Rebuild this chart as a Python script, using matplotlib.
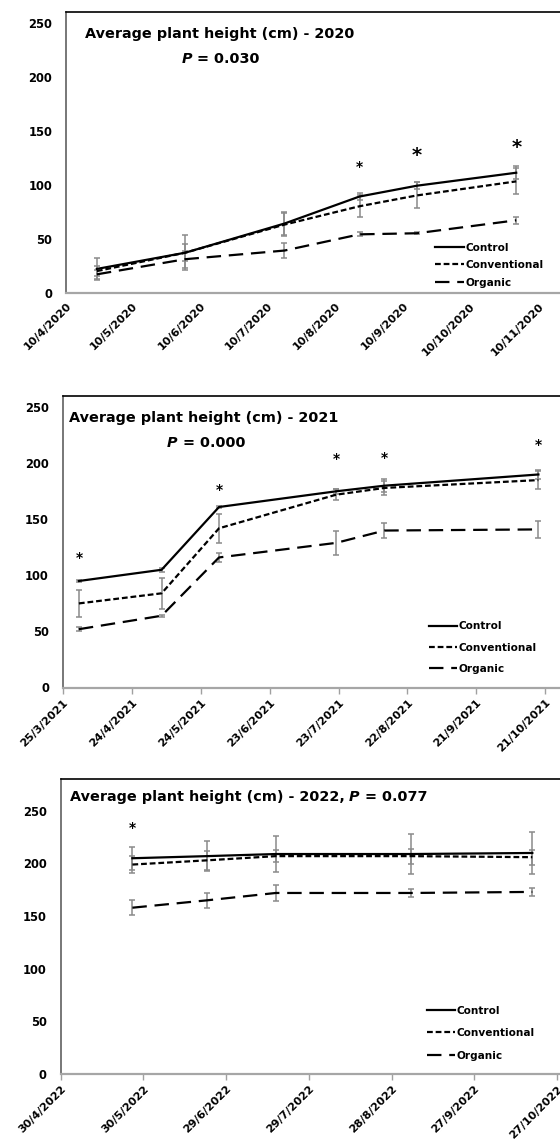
import matplotlib
matplotlib.use("Agg")
import matplotlib.pyplot as plt
import matplotlib.dates as mdates
from datetime import datetime
from matplotlib.lines import Line2D
from matplotlib.text import Annotation

plt.rcParams['font.family'] = ['DejaVu Sans']
plt.rcParams['font.weight'] = 'bold'

# ---------------- data ----------------
series_names = ['Control', 'Conventional', 'Organic']

dates_2020 = ['24/4/2020', '3/6/2020', '18/7/2020', '21/8/2020', '16/9/2020', '31/10/2020']
control_2020 = [22, 37, 64, 89, 99, 111]
conventional_2020 = [20, 37, 63, 80, 90, 103]
organic_2020 = [17, 31, 39, 54, 55, 67]
control_2020_err = [10, 16, 11, 3, 3, 6]
conventional_2020_err = [5, 8, 11, 10, 12, 12]
organic_2020_err = [4, 8, 7, 2, 1, 3]
stars_2020_idx = [3, 4, 5]
stars_2020_y = [117, 128, 135]
stars_2020_big = [False, True, True]
ticks_2020 = ['10/4/2020', '10/5/2020', '10/6/2020', '10/7/2020',
              '10/8/2020', '10/9/2020', '10/10/2020', '10/11/2020']

dates_2021 = ['1/4/2021', '7/5/2021', '1/6/2021', '22/7/2021', '12/8/2021', '18/10/2021']
control_2021 = [95, 105, 161, 175, 180, 190]
conventional_2021 = [75, 84, 142, 172, 178, 185]
organic_2021 = [52, 64, 116, 129, 140, 141]
control_2021_err = [1, 2, 1, 2, 6, 4]
conventional_2021_err = [12, 14, 13, 5, 6, 8]
organic_2021_err = [2, 1, 4, 11, 7, 7.5]
stars_2021_idx = [0, 2, 3, 4, 5]
stars_2021_y = [116, 177, 204, 205, 217]
stars_2021_big = [False, False, False, False, False]
ticks_2021 = ['25/3/2021', '24/4/2021', '24/5/2021', '23/6/2021',
              '23/7/2021', '22/8/2021', '21/9/2021', '21/10/2021']

dates_2022 = ['26/5/2022', '22/6/2022', '17/7/2022', '4/9/2022', '18/10/2022']
control_2022 = [205, 207, 209, 209, 210]
conventional_2022 = [199, 203, 207, 207, 206]
organic_2022 = [158, 165, 172, 172, 173]
control_2022_err = [11, 14, 17, 19, 20]
conventional_2022_err = [8, 9, 6, 7, 7]
organic_2022_err = [7, 7, 7.5, 3.7, 3.5]
stars_2022_idx = [0]
stars_2022_y = [234]
stars_2022_big = [False]
ticks_2022 = ['30/4/2022', '30/5/2022', '29/6/2022', '29/7/2022',
              '28/8/2022', '27/9/2022', '27/10/2022']

y_ticks = [0, 50, 100, 150, 200, 250]

# ---------------- layout ----------------
W, H = 560, 1142
fig = plt.figure(figsize=(W / 100, H / 100), dpi=100)


def d(s):
    return mdates.date2num(datetime.strptime(s, '%d/%m/%Y'))


def rect(left, top, bottom, right=560):
    return [left / W, 1 - bottom / H, (right - left) / W, (bottom - top) / H]


styles = {
    'Control': dict(linestyle='-'),
    'Conventional': dict(linestyle=(0, (2.6, 1.3))),
    'Organic': dict(linestyle=(0, (6.5, 3.5))),
}
ERR_COL = '#8a8a8a'


def panel(ax_rect, dates, vals, errs, ticks, xmax_days, ymax, stars, show_ticks):
    ax = fig.add_axes(ax_rect)
    x = [d(s) for s in dates]
    for name, v, e in zip(series_names, vals, errs):
        ax.errorbar(x, v, yerr=e, fmt='none', ecolor=ERR_COL, elinewidth=1.1,
                    capsize=2.2, capthick=1.1, zorder=2)
    for name, v in zip(series_names, vals):
        ax.plot(x, v, color='black', lw=1.6, zorder=3, **styles[name])
    idx, sy, big = stars
    for i, yv, b in zip(idx, sy, big):
        fs = 14 if b else 10
        ax.annotate('*', xy=(x[i], yv), xytext=(0, -0.32 * fs), textcoords='offset points',
                    ha='center', va='baseline', fontsize=fs, fontweight='bold')
    x0 = d(ticks[0])
    ax.set_xlim(x0, x0 + xmax_days)
    ax.set_ylim(0, ymax)
    ax.set_xticks([d(t) for t in ticks])
    ax.set_xticklabels(ticks, rotation=45, ha='right', va='top',
                       rotation_mode='anchor', fontsize=8, fontweight='bold')
    ax.set_yticks(y_ticks)
    ax.set_yticklabels([str(t) for t in y_ticks], fontsize=8.3, fontweight='bold')
    ax.tick_params(axis='y', length=0, pad=10)
    if show_ticks:
        ax.tick_params(axis='x', length=4, width=1, color='#a0a0a0', direction='out', pad=3)
    else:
        ax.tick_params(axis='x', length=0, pad=6)
    ax.spines['right'].set_visible(False)
    ax.spines['top'].set_color('black')
    ax.spines['top'].set_linewidth(1.2)
    ax.spines['left'].set_color('#606060')
    ax.spines['left'].set_linewidth(1.2)
    ax.spines['bottom'].set_color('#a6a6a6')
    ax.spines['bottom'].set_linewidth(1.6)
    return ax


def legend(ax, left_px, top_px, spacing):
    handles = [Line2D([], [], color='black', lw=1.6, **styles[n]) for n in series_names]
    ax.legend(handles, series_names, loc='upper left',
              bbox_to_anchor=(left_px / W, 1 - top_px / H), bbox_transform=fig.transFigure,
              frameon=False, borderpad=0, borderaxespad=0, handlelength=2.7,
              handletextpad=0.15, labelspacing=spacing,
              prop=dict(size=7.6, weight='bold'))


def fx(px):
    return px / W


def fy(py):
    return 1 - py / H


def chain(prev, s, italic=False):
    a = Annotation(s, xy=(1, 0), xycoords=prev, va='bottom', ha='left',
                   fontsize=TFS, fontweight='bold', style='italic' if italic else 'normal')
    a.set_figure(fig)
    fig.texts.append(a)
    return a


TFS = 10.4

# Panel 2020
ax1 = panel(rect(66, 11.7, 292.7), dates_2020,
            [control_2020, conventional_2020, organic_2020],
            [control_2020_err, conventional_2020_err, organic_2020_err],
            ticks_2020, (560 - 66) / 2.207, 260,
            (stars_2020_idx, stars_2020_y, stars_2020_big), False)
legend(ax1, 435, 242.5, 0.72)
fig.text(fx(84.6), fy(34), 'Average plant height (cm) - 2020', fontsize=TFS,
         fontweight='bold', va='center', ha='left')
p1 = fig.text(fx(182), fy(59.3), 'P', fontsize=TFS, fontweight='bold', style='italic',
              va='center', ha='left')
chain(p1, ' = 0.030')

# Panel 2021
ax2 = panel(rect(62.8, 396, 687.5), dates_2021,
            [control_2021, conventional_2021, organic_2021],
            [control_2021_err, conventional_2021_err, organic_2021_err],
            ticks_2021, (560 - 62.8) / 2.2976, 260,
            (stars_2021_idx, stars_2021_y, stars_2021_big), True)
legend(ax2, 428.6, 621.5, 1.05)
fig.text(fx(69), fy(418.3), 'Average plant height (cm) - 2021', fontsize=TFS,
         fontweight='bold', va='center', ha='left')
p2 = fig.text(fx(167), fy(442.7), 'P', fontsize=TFS, fontweight='bold', style='italic',
              va='center', ha='left')
chain(p2, ' = 0.000')

# Panel 2022
ax3 = panel(rect(60.7, 779.3, 1074), dates_2022,
            [control_2022, conventional_2022, organic_2022],
            [control_2022_err, conventional_2022_err, organic_2022_err],
            ticks_2022, (560 - 60.7) / 2.758, 280,
            (stars_2022_idx, stars_2022_y, stars_2022_big), True)
legend(ax3, 426.8, 1005.5, 1.2)
t3 = fig.text(fx(69.6), fy(796.7), 'Average plant height (cm) - 2022,', fontsize=TFS,
              fontweight='bold', va='center', ha='left')
b3 = chain(t3, ' P', italic=True)
chain(b3, ' = 0.077')

fig.savefig('out.png', dpi=100)
